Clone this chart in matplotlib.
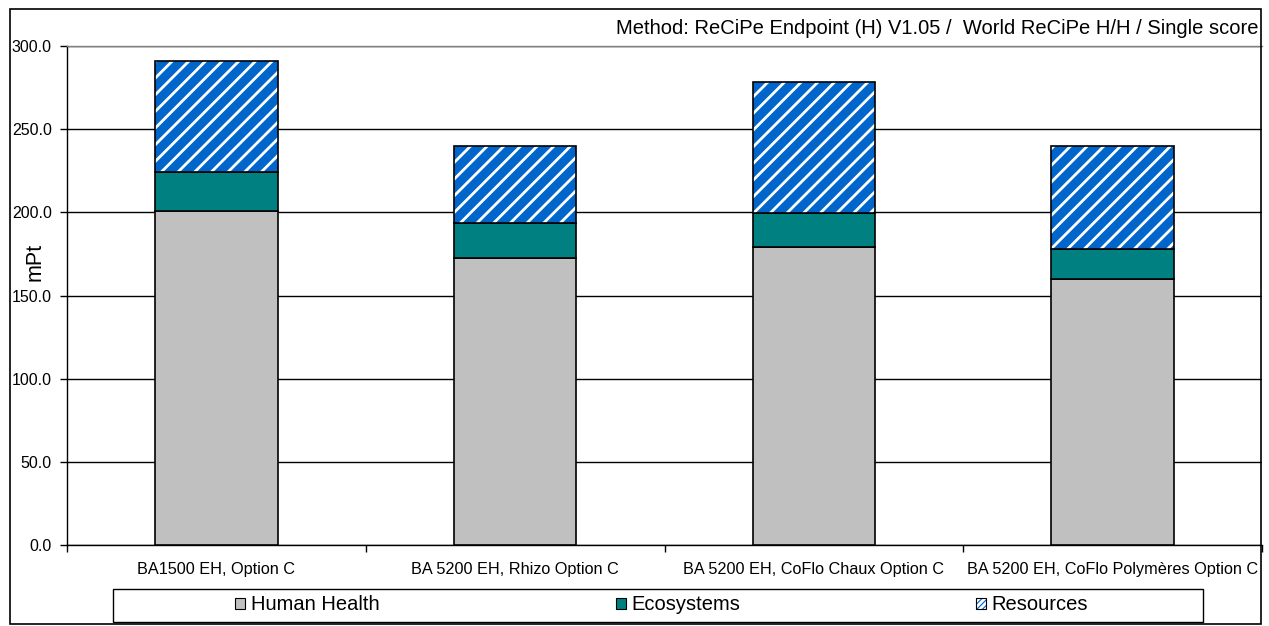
import numpy as np
import matplotlib
matplotlib.use("Agg")
import matplotlib.pyplot as plt
from matplotlib.patches import Patch, Rectangle
from matplotlib.legend_handler import HandlerTuple

plt.rcParams['font.family'] = ['Liberation Sans', 'DejaVu Sans']
plt.rcParams['hatch.linewidth'] = 2.0

categories = ["BA1500 EH, Option C", "BA 5200 EH, Rhizo Option C",
              "BA 5200 EH, CoFlo Chaux Option C", "BA 5200 EH, CoFlo Polymères Option C"]
human_health = [200.9, 172.8, 179.4, 159.8]
ecosystems = [23.1, 20.5, 20.3, 18.0]
resources = [66.9, 46.4, 78.8, 62.3]
series_names = ["Human Health", "Ecosystems", "Resources"]
title = "Method: ReCiPe Endpoint (H) V1.05 /  World ReCiPe H/H / Single score"
ylabel = "mPt"

c_hh = "#C0C0C0"
c_eco = "#008080"
c_res = "#0066CC"

W, H = 1269, 626
fig = plt.figure(figsize=(W / 100, H / 100), dpi=100)
ax = fig.add_axes([67 / W, 1 - 545 / H, (1262 - 67) / W, (545 - 46) / H])

x = np.arange(len(categories))
bw = 0.41
hh = np.array(human_health)
eco = np.array(ecosystems)
res = np.array(resources)

b1 = ax.bar(x, hh, bw, color=c_hh, edgecolor="black", linewidth=1.2, zorder=3)
b2 = ax.bar(x, eco, bw, bottom=hh, color=c_eco, edgecolor="black", linewidth=1.2, zorder=3)
b3 = ax.bar(x, res, bw, bottom=hh + eco, color=c_res, edgecolor="none", linewidth=0, zorder=3)
ax.bar(x, res, bw, bottom=hh + eco, facecolor="none", edgecolor="white", hatch="//",
       linewidth=0, zorder=4)
ax.bar(x, res, bw, bottom=hh + eco, facecolor="none", edgecolor="black", linewidth=1.2, zorder=5)

ax.set_xlim(-0.5, len(categories) - 0.5)
ax.set_ylim(0, 300)
ax.set_yticks(np.arange(0, 301, 50))
ax.set_yticklabels([f"{v:.1f}" for v in np.arange(0, 301, 50)], fontsize=11.5)
ax.tick_params(axis="y", direction="out", length=5, width=1, pad=6, color="black")
ax.set_xticks(x)
ax.set_xticklabels(categories, fontsize=11.7)
ax.tick_params(axis="x", which="major", length=0, pad=12)
ax.set_xticks(np.arange(-0.5, len(categories), 1.0), minor=True)
ax.tick_params(axis="x", which="minor", direction="out", length=5, width=1, color="black")

ax.yaxis.grid(True, color="black", linewidth=1)
ax.set_axisbelow(True)
ax.spines["top"].set_color("#808080")
ax.spines["right"].set_visible(False)
ax.spines["left"].set_color("black")
ax.spines["bottom"].set_color("black")
for s in ax.spines.values():
    s.set_linewidth(1)

fig.text(35 / W, 1 - 262 / H, ylabel, rotation=90, fontsize=15.5, ha="center", va="center")
fig.text(1259 / W, 1 - 28 / H, title, fontsize=14.5, ha="right", va="center")

# outer frame
fig.patches.append(Rectangle((10 / W, 1 - 624 / H), (1261 - 10) / W, (624 - 9) / H,
                             transform=fig.transFigure, fill=False, edgecolor="black", linewidth=1.2))
# legend box
fig.patches.append(Rectangle((113 / W, 1 - 622 / H), (1203 - 113) / W, (622 - 589) / H,
                             transform=fig.transFigure, fill=False, edgecolor="black", linewidth=1))

h_hh = Patch(facecolor=c_hh, edgecolor="black", linewidth=0.8)
h_eco = Patch(facecolor=c_eco, edgecolor="black", linewidth=0.8)
h_res = (Patch(facecolor=c_res, edgecolor="none"),
         Patch(facecolor="none", edgecolor="white", hatch="//////", linewidth=0),
         Patch(facecolor="none", edgecolor="black", linewidth=0.8))
centers = [307, 678, 1032]
for h, name, cx in zip([h_hh, h_eco, h_res], series_names, centers):
    lg = fig.legend([h], [name], loc="center", bbox_to_anchor=(cx / W, 1 - 605 / H),
                    frameon=False, fontsize=14.5, handlelength=0.5, handleheight=0.5,
                    handletextpad=0.3, borderpad=0, borderaxespad=0,
                    handler_map={tuple: HandlerTuple(ndivide=1, pad=0)})

fig.savefig("out.png", dpi=100)
